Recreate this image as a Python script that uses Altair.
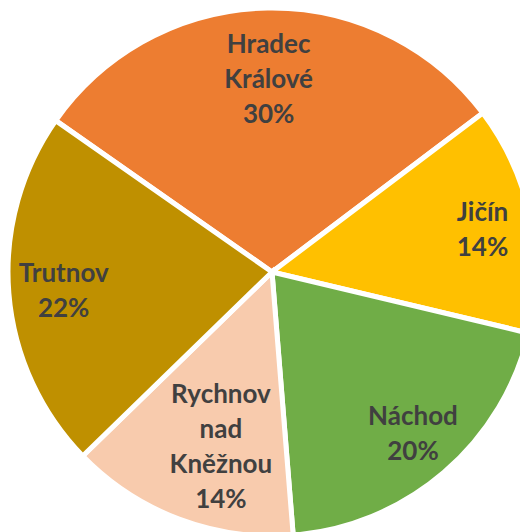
import altair as alt
import pandas as pd

regions = ["Hradec Králové", "Jičín", "Náchod", "Rychnov nad Kněžnou", "Trutnov"]
label_lines = ["Hradec\nKrálové", "Jičín", "Náchod", "Rychnov\nnad\nKněžnou", "Trutnov"]
shares = [30, 14, 20, 14, 22]
colors = ["#ED7D31", "#FFC000", "#70AD47", "#F8CBAD", "#BF9000"]

labels = [f"{l}\n{s}%" for l, s in zip(label_lines, shares)]
df = pd.DataFrame({
    "region": regions,
    "share": shares,
    "order": list(range(len(regions))),
    "label": labels,
    "nlines": [t.count("\n") + 1 for t in labels],
})

start = -0.96
total = sum(shares)
theta_scale = alt.Scale(domain=[0, total], range=[start, start + 2 * 3.141592653589793])
CX, CY = 264, 264
LH = 35

base = alt.Chart(df).transform_stack(
    stack="share", as_=["s0", "s1"], groupby=[], sort=[alt.SortField("order")]
).transform_calculate(mid="(datum.s0 + datum.s1) / 2")

arcs = base.mark_arc(outerRadius=264, stroke="white", strokeWidth=5).encode(
    theta=alt.Theta("s0:Q", scale=theta_scale),
    theta2="s1:Q",
    color=alt.Color("region:N", scale=alt.Scale(domain=regions, range=colors), legend=None),
    x=alt.value(CX),
    y=alt.value(CY),
)

# label radius / nudges per line count (style, like Excel best-fit)
label_styles = {2: (212, 3, 2), 3: (192, 0, 0), 4: (185, 14, 2)}

layers = [arcs]
for n, (r, dx, ddy) in label_styles.items():
    layers.append(
        base.transform_filter(alt.datum.nlines == n).mark_text(
            radius=r,
            dx=dx,
            dy=-(n - 1) * LH / 2 + ddy,
            font="Lato",
            fontWeight="bold",
            fontSize=26,
            color="#404040",
            lineBreak="\n",
            lineHeight=LH,
            align="center",
            baseline="middle",
        ).encode(
            theta=alt.Theta("mid:Q", scale=theta_scale),
            text="label:N",
            x=alt.value(CX),
            y=alt.value(CY),
        )
    )

chart = alt.layer(*layers).properties(
    width=512,
    height=524,
    padding=0,
    autosize=alt.AutoSizeParams(type="none"),
).configure_view(stroke=None)

chart.save("out.html", embed_options={"renderer": "svg", "actions": False})
